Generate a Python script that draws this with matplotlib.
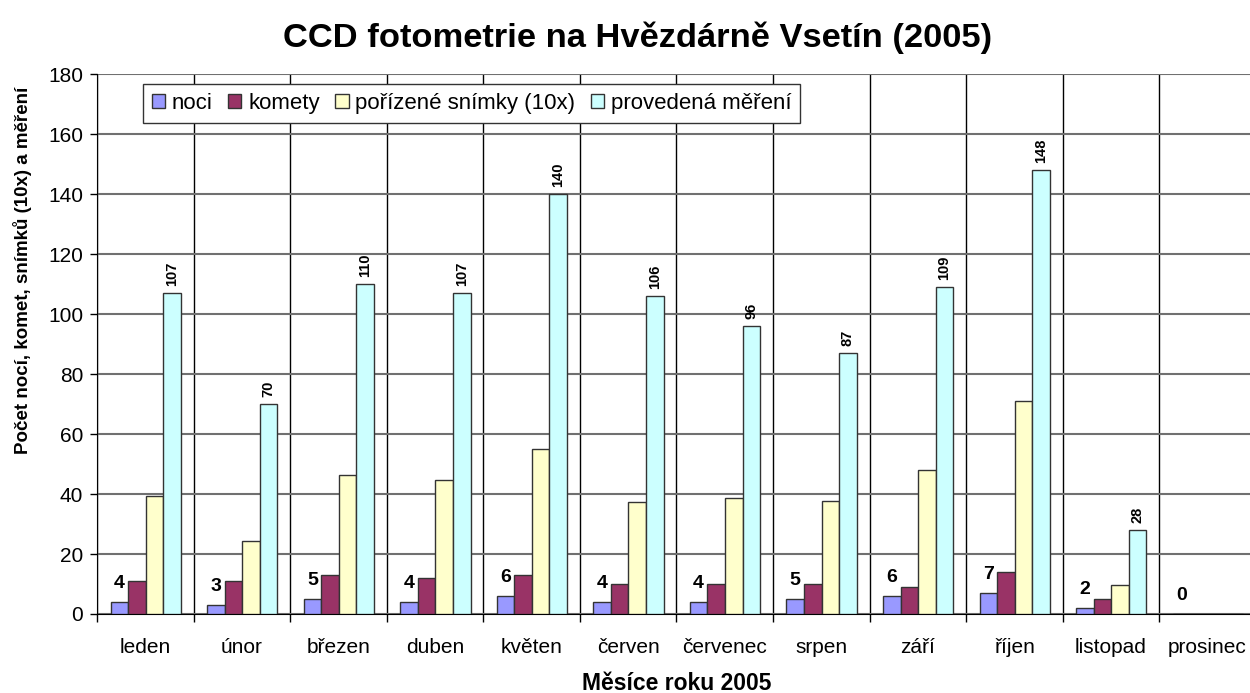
import matplotlib
matplotlib.use("Agg")
import matplotlib.pyplot as plt
import numpy as np

plt.rcParams['font.family'] = ['Liberation Sans', 'DejaVu Sans']

mesice = ["leden", "únor", "březen", "duben", "květen", "červen", "červenec",
          "srpen", "září", "říjen", "listopad", "prosinec"]
noci = [4, 3, 5, 4, 6, 4, 4, 5, 6, 7, 2, 0]
komety = [11, 11, 13, 12, 13, 10, 10, 10, 9, 14, 5, 0]
snimky = [39.3, 24.2, 46.5, 44.6, 54.9, 37.3, 38.8, 37.8, 48.1, 70.9, 9.6, 0]
mereni = [107, 70, 110, 107, 140, 106, 96, 87, 109, 148, 28, 0]

serie = [("noci", noci, "#9999FF"),
         ("komety", komety, "#993366"),
         ("pořízené snímky (10x)", snimky, "#FFFFCC"),
         ("provedená měření", mereni, "#CCFFFF")]

fig = plt.figure(figsize=(12.5, 6.93), dpi=100)
ax = fig.add_axes([0.0776, 0.114, 0.927, 0.779])

x = np.arange(len(mesice))
w = 0.182
start = 0.14
for k, (name, vals, col) in enumerate(serie):
    ax.bar(x + start + w * (k + 0.5), vals, w, color=col, edgecolor="#333333",
           linewidth=1, label=name, zorder=3)

# popisky hodnot
for i, v in enumerate(noci):
    ax.annotate(str(v), (x[i] + start + w * 0.5, v), xytext=(0, 13.5),
                textcoords="offset points", ha="center", va="center",
                fontsize=14, fontweight="bold", zorder=5)
for i, v in enumerate(mereni):
    if v > 0:
        ax.annotate(str(v), (x[i] + start + w * 3.5, v), xytext=(0, 5),
                    textcoords="offset points", ha="center", va="bottom",
                    rotation=90, fontsize=10.5, fontweight="bold", zorder=5)

ax.set_xlim(0, 12)
ax.set_ylim(0, 180)
ax.set_yticks(np.arange(0, 181, 20))
ax.set_xticks(np.arange(0, 13))
ax.set_xticklabels([])
ax.set_xticks(x + 0.5, minor=True)
ax.set_xticklabels(mesice, minor=True)
ax.tick_params(axis="x", which="major", direction="out", length=6, width=1)
ax.tick_params(axis="x", which="minor", length=0, pad=17, labelsize=15)
ax.tick_params(axis="y", direction="out", length=5, width=1, pad=5, labelsize=15)

ax.grid(axis="y", color="#707070", linewidth=1.5, zorder=0)
ax.grid(axis="x", which="major", color="black", linewidth=1, zorder=0)
for s in ["top", "right"]:
    ax.spines[s].set_visible(False)

fig.text(0.018, 0.61, "Počet nocí, komet, snímků (10x) a měření", rotation=90,
         ha="center", va="center", fontsize=13.5, fontweight="bold")
fig.text(0.541, 0.0135, "Měsíce roku 2005", ha="center", va="center",
         fontsize=16.5, fontweight="bold")
fig.text(0.51, 0.945, "CCD fotometrie na Hvězdárně Vsetín (2005)", ha="center",
         va="center", fontsize=24.8, fontweight="bold")

leg = ax.legend(loc="upper left", bbox_to_anchor=(0.0395, 0.982), ncol=4,
                fontsize=16, frameon=True, fancybox=False, framealpha=1,
                edgecolor="#333333", handlelength=0.6, handleheight=0.6,
                handletextpad=0.3, columnspacing=0.7, borderpad=0.4,
                borderaxespad=0)
leg.get_frame().set_linewidth(1)
leg.set_zorder(10)

fig.savefig("out.png", dpi=100)
